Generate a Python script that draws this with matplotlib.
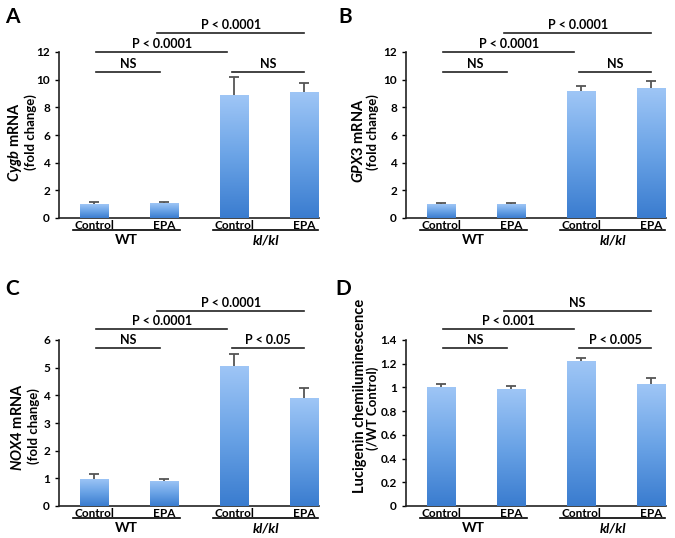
import numpy as np
import matplotlib
matplotlib.use("Agg")
from matplotlib import pyplot as plt
from matplotlib.colors import LinearSegmentedColormap

plt.rcParams['font.family'] = 'Lato'
plt.rcParams['mathtext.fontset'] = 'custom'
plt.rcParams['mathtext.it'] = 'Lato:italic:bold'
plt.rcParams['mathtext.rm'] = 'Lato:bold'

# data
treatments = ["Control", "EPA", "Control", "EPA"]
groups = ["WT", "kl/kl"]

cygb = [1.0, 1.08, 8.87, 9.11]
cygb_err = [0.18, 0.05, 1.32, 0.65]

gpx3 = [1.0, 1.0, 9.16, 9.40]
gpx3_err = [0.05, 0.1, 0.41, 0.48]

nox4 = [0.99, 0.91, 5.07, 3.90]
nox4_err = [0.18, 0.07, 0.43, 0.35]

lucigenin = [1.005, 0.99, 1.222, 1.028]
lucigenin_err = [0.023, 0.024, 0.028, 0.048]

# (label, x0, x1, height)
sig_a = [("NS", 0.03, 0.94, 10.56), ("P < 0.0001", 0.03, 1.9, 12.0),
         ("P < 0.0001", 0.9, 3.0, 13.38), ("NS", 1.97, 3.0, 10.56)]
sig_b = [("NS", 0.03, 0.94, 10.56), ("P < 0.0001", 0.03, 1.9, 12.0),
         ("P < 0.0001", 0.9, 3.0, 13.38), ("NS", 1.97, 3.0, 10.56)]
sig_c = [("NS", 0.03, 0.94, 5.71), ("P < 0.0001", 0.03, 1.9, 6.4),
         ("P < 0.0001", 0.9, 3.0, 7.05), ("P < 0.05", 1.97, 3.0, 5.71)]
sig_d = [("NS", 0.03, 0.94, 1.333), ("P < 0.001", 0.03, 1.9, 1.493),
         ("NS", 0.9, 3.0, 1.645), ("P < 0.005", 1.97, 3.0, 1.333)]

cmap = LinearSegmentedColormap.from_list("bluegrad", ["#3a7ccf", "#6aa3e6", "#9fc6f6"])

fig = plt.figure(figsize=(6.75, 5.38), dpi=100)
W, H = 675.0, 538.0


def panel(rect, vals, errs, ymax, step, label1, label2, sigs, pos1, pos2,
          fmt="%d", l1size=10.5, l2size=9.5):
    ax = fig.add_axes(rect)
    x = np.arange(len(vals))
    bars = ax.bar(x, vals, width=0.4, color="#7fb1ee", zorder=2)
    grad = np.linspace(0, 1, 256).reshape(-1, 1)
    for b in bars:
        x0, y0 = b.get_x(), b.get_y()
        w, h = b.get_width(), b.get_height()
        im = ax.imshow(grad, cmap=cmap, origin="lower", aspect="auto",
                       extent=[x0, x0 + w, y0, y0 + h], zorder=3)
        im.set_clip_path(b)
    tops = np.array(vals) + np.array(errs)
    ax.vlines(x, vals, tops, color="#555555", lw=1.3, zorder=4)
    ax.plot(x, tops, ls="none", marker="_", ms=7, mew=1.3, color="#555555",
            zorder=4, clip_on=False)
    ax.set_xlim(-0.5, 3.21)
    ax.set_ylim(0, ymax)
    ax.set_yticks(np.arange(0, ymax + step / 2, step))
    ax.yaxis.set_major_formatter(matplotlib.ticker.FormatStrFormatter(fmt))
    ax.set_xticks(x)
    ax.set_xticklabels(treatments, fontweight="bold", fontsize=8.5)
    ax.tick_params(axis="x", length=0, pad=1.5)
    ax.tick_params(axis="y", labelsize=8.5, length=3, width=1, direction="out")
    for t in ax.get_yticklabels():
        t.set_fontweight("bold")
    for s in ["top", "right"]:
        ax.spines[s].set_visible(False)
    for s in ["left", "bottom"]:
        ax.spines[s].set_linewidth(1.2)
        ax.spines[s].set_color("#222222")

    tr = ax.get_xaxis_transform()
    for (gx0, gx1), g, style in zip([(-0.3, 1.23), (1.7, 3.2)], groups, ["normal", "italic"]):
        ax.plot([gx0, gx1], [-0.074, -0.074], color="black", lw=1.2,
                transform=tr, clip_on=False)
        ax.text((gx0 + gx1) / 2, -0.135, g, transform=tr, ha="center", va="center",
                fontsize=10, fontweight="bold", style=style)

    for txt, sx0, sx1, sy in sigs:
        ax.plot([sx0, sx1], [sy, sy], color="#222222", lw=1.2, clip_on=False)
        ax.text((sx0 + sx1) / 2, sy + ymax * 0.012, txt, ha="center", va="bottom",
                fontsize=9, fontweight="bold", clip_on=False)

    ax.text(pos1[0], pos1[1], label1, transform=ax.transAxes, rotation=90,
            ha="center", va="center", fontsize=l1size, fontweight="bold")
    ax.text(pos2[0], pos2[1], label2, transform=ax.transAxes, rotation=90,
            ha="center", va="center", fontsize=l2size, fontweight="bold")
    return ax


top_b = 1 - 218 / H
bot_b = 1 - 506 / H
aw, ah = 260 / W, 166 / H

panel([59 / W, top_b, aw, ah], cygb, cygb_err, 12, 2,
      r"$\mathit{Cygb}$ mRNA", "(fold change)", sig_a,
      (-0.169, 0.46), (-0.108, 0.518))
panel([406 / W, top_b, aw, ah], gpx3, gpx3_err, 12, 2,
      r"$\mathit{GPX3}$ mRNA", "(fold change)", sig_b,
      (-0.181, 0.464), (-0.127, 0.518))
panel([59 / W, bot_b, aw, ah], nox4, nox4_err, 6, 1,
      r"$\mathit{NOX4}$ mRNA", "(fold change)", sig_c,
      (-0.158, 0.476), (-0.098, 0.482))
panel([406 / W, bot_b, aw, ah], lucigenin, lucigenin_err, 1.4, 0.2,
      "Lucigenin chemiluminescence", "(/WT Control)", sig_d,
      (-0.178, 0.665), (-0.128, 0.59), fmt="%g", l1size=10.5, l2size=9.5)

for letter, lx, ly in [("A", 12, 17), ("B", 345, 17), ("C", 12, 289), ("D", 343, 289)]:
    fig.text(lx / W, 1 - ly / H, letter, fontsize=15, fontweight="bold",
             ha="center", va="center")

fig.savefig("out.png", dpi=100)
